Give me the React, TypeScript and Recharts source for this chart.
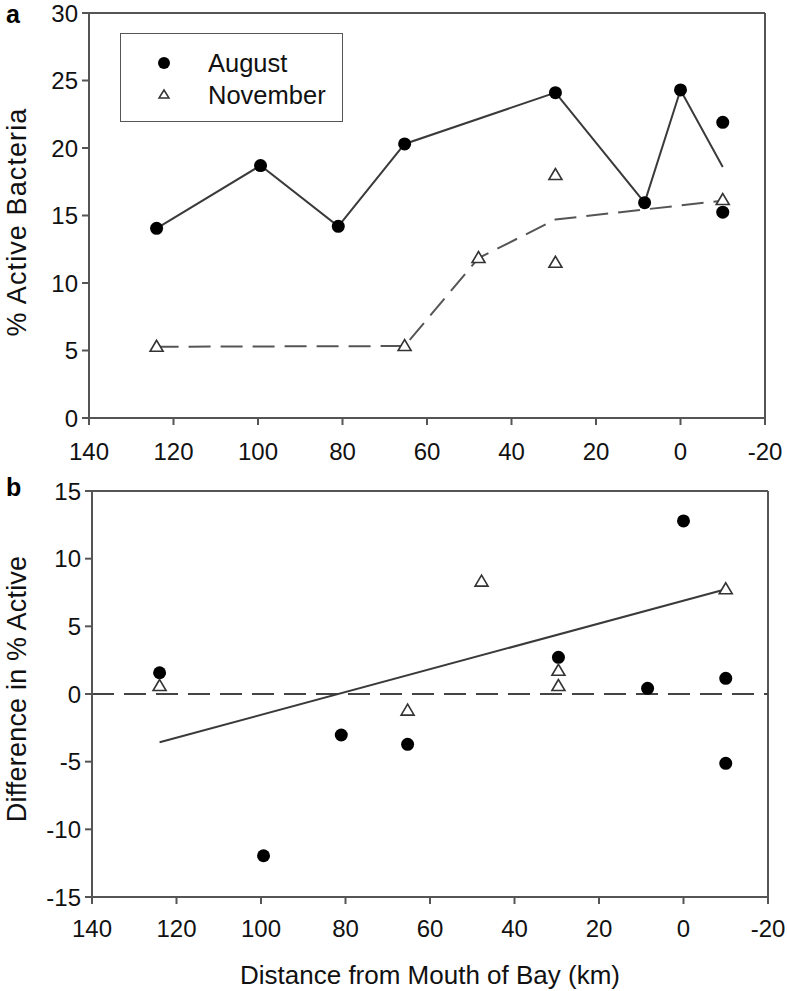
import React from 'react';
import { ComposedChart, Scatter, XAxis, YAxis, ReferenceLine, Legend } from 'recharts';

// distance from mouth of bay (km)
const distanceTicks = [140, 120, 100, 80, 60, 40, 20, 0, -20];
const activeTicks = [0, 5, 10, 15, 20, 25, 30];
const diffTicks = [-15, -10, -5, 0, 5, 10, 15];

// panel a: % active bacteria
const augustActive = [
  { d: 124, v: 14.05 },
  { d: 99.4, v: 18.7 },
  { d: 81, v: 14.2 },
  { d: 65.3, v: 20.3 },
  { d: 29.6, v: 24.1 },
  { d: 8.5, v: 15.95 },
  { d: 0, v: 24.3 },
  { d: -10, v: 21.9 },
  { d: -10, v: 15.25 },
];
const augustMeanLine = [
  { d: 124, v: 14.05 },
  { d: 99.4, v: 18.7 },
  { d: 81, v: 14.2 },
  { d: 65.3, v: 20.3 },
  { d: 29.6, v: 24.1 },
  { d: 8.5, v: 15.95 },
  { d: 0, v: 24.3 },
  { d: -10, v: 18.6 },
];
const novemberActive = [
  { d: 124, v: 5.28 },
  { d: 65.3, v: 5.33 },
  { d: 47.8, v: 11.85 },
  { d: 29.6, v: 18.0 },
  { d: 29.6, v: 11.5 },
  { d: -10, v: 16.15 },
];
const novemberMeanLine = [
  { d: 124, v: 5.28 },
  { d: 65.3, v: 5.33 },
  { d: 47.8, v: 11.85 },
  { d: 29.6, v: 14.7 },
  { d: -10, v: 16.1 },
];

// panel b: difference in % active
const augustDiff = [
  { d: 124, v: 1.57 },
  { d: 99.4, v: -11.95 },
  { d: 81, v: -3.03 },
  { d: 65.3, v: -3.72 },
  { d: 29.6, v: 2.71 },
  { d: 8.5, v: 0.42 },
  { d: 0, v: 12.79 },
  { d: -10, v: 1.16 },
  { d: -10, v: -5.12 },
];
const novemberDiff = [
  { d: 124, v: 0.59 },
  { d: 65.3, v: -1.23 },
  { d: 47.8, v: 8.3 },
  { d: 29.6, v: 1.72 },
  { d: 29.6, v: 0.59 },
  { d: -10, v: 7.74 },
];
const regressionLine = [
  { d: 124, v: -3.57 },
  { d: -10, v: 7.74 },
];

const font = '"Liberation Sans", Arial, sans-serif';
const axisStroke = { stroke: '#555', strokeWidth: 2 };
const tickStyle = { fill: '#111', fontSize: 24, fontFamily: font };

const DotMark = (props: any) => <circle cx={props.cx} cy={props.cy} r={6.5} fill="#000" />;

const TriMark = (props: any) => {
  const { cx, cy } = props;
  return (
    <polygon
      points={`${cx},${cy - 6.5} ${cx - 6.5},${cy + 4.5} ${cx + 6.5},${cy + 4.5}`}
      fill="#fff"
      stroke="#333"
      strokeWidth={1.6}
    />
  );
};

const NoMark = () => <g />;

// rotated axis title, baseline on bx, centred on by
const VerticalTitle = (props: any) => {
  const { title, bx, by, spacing } = props;
  return (
    <text
      x={bx}
      y={by}
      transform={`rotate(-90 ${bx} ${by})`}
      textAnchor="middle"
      fill="#111"
      fontSize={27}
      fontFamily={font}
      letterSpacing={spacing}
    >
      {title}
    </text>
  );
};

const LegendBox = (props: any) => {
  const items = (props.payload || []).filter((p: any) => p.type !== 'none');
  return (
    <div
      style={{
        width: 223,
        height: 89,
        boxSizing: 'border-box',
        border: '1.5px solid #555',
        background: '#fff',
        position: 'relative',
        fontFamily: font,
        fontSize: 25.5,
        color: '#111',
      }}
    >
      {items.map((item: any, i: number) => (
        <div key={item.value} style={{ position: 'absolute', left: 0, top: 14 + i * 32, height: 30, width: '100%' }}>
          <svg width={30} height={30} style={{ position: 'absolute', left: 28, top: 0 }}>
            {item.value === 'August' ? (
              <circle cx={15} cy={15} r={6} fill="#000" />
            ) : (
              <polygon points="15,10 10,18 20,18" fill="#fff" stroke="#333" strokeWidth={1.5} />
            )}
          </svg>
          <span style={{ position: 'absolute', left: 87, top: 0, lineHeight: '30px' }}>{item.value}</span>
        </div>
      ))}
    </div>
  );
};

const panelLetter = (letter: string, top: number) => (
  <div
    style={{
      position: 'absolute',
      left: 6,
      top,
      fontFamily: font,
      fontWeight: 'bold',
      fontSize: 25,
      lineHeight: 1,
      color: '#000',
    }}
  >
    {letter}
  </div>
);

const App: React.FC = () => {
  return (
    <div style={{ position: 'absolute', left: 0, top: 0, width: 787, height: 991, background: '#fff' }}>
      <div style={{ position: 'absolute', left: 0, top: 0 }}>
        <ComposedChart width={787} height={470} margin={{ top: 13, right: 22, left: 0, bottom: 12 }}>
          <XAxis
            type="number"
            dataKey="d"
            domain={[-20, 140]}
            reversed
            ticks={distanceTicks}
            interval={0}
            allowDataOverflow
            height={40}
            tickSize={7}
            tickMargin={18}
            axisLine={axisStroke}
            tickLine={axisStroke}
            tick={tickStyle}
          />
          <YAxis
            type="number"
            dataKey="v"
            domain={[0, 30]}
            ticks={activeTicks}
            interval={0}
            allowDataOverflow
            width={89}
            tickSize={7}
            tickMargin={4}
            axisLine={axisStroke}
            tickLine={axisStroke}
            tick={tickStyle}
            label={<VerticalTitle title="% Active Bacteria" bx={26} by={222} spacing={1.1} />}
          />
          <ReferenceLine y={30} stroke="#555" strokeWidth={2} />
          <ReferenceLine x={-20} stroke="#555" strokeWidth={2} />
          <Scatter
            name="August mean"
            data={augustMeanLine}
            line={{ stroke: '#3a3a3a', strokeWidth: 2 }}
            shape={NoMark}
            legendType="none"
            isAnimationActive={false}
          />
          <Scatter
            name="November mean"
            data={novemberMeanLine}
            line={{ stroke: '#555', strokeWidth: 2, strokeDasharray: '22 10' }}
            shape={NoMark}
            legendType="none"
            isAnimationActive={false}
          />
          <Scatter name="August" data={augustActive} shape={DotMark} legendType="circle" isAnimationActive={false} />
          <Scatter name="November" data={novemberActive} shape={TriMark} legendType="triangle" isAnimationActive={false} />
          <Legend
            layout="vertical"
            align="center"
            verticalAlign="middle"
            content={LegendBox}
            wrapperStyle={{ left: 120, top: 33, width: 223, height: 89 }}
          />
        </ComposedChart>
      </div>

      <div style={{ position: 'absolute', left: 0, top: 470 }}>
        <ComposedChart width={787} height={521} margin={{ top: 21, right: 19, left: 0, bottom: 0 }}>
          <XAxis
            type="number"
            dataKey="d"
            domain={[-20, 140]}
            reversed
            ticks={distanceTicks}
            interval={0}
            allowDataOverflow
            height={94}
            tickSize={7}
            tickMargin={16}
            axisLine={axisStroke}
            tickLine={axisStroke}
            tick={tickStyle}
            label={{
              value: 'Distance from Mouth of Bay (km)',
              position: 'insideBottom',
              offset: 7,
              style: { fill: '#111', fontSize: 26, fontFamily: font },
            }}
          />
          <YAxis
            type="number"
            dataKey="v"
            domain={[-15, 15]}
            ticks={diffTicks}
            interval={0}
            allowDataOverflow
            width={92}
            tickSize={7}
            tickMargin={4}
            axisLine={axisStroke}
            tickLine={axisStroke}
            tick={tickStyle}
            label={<VerticalTitle title="Difference in % Active" bx={26} by={219} spacing={0.2} />}
          />
          <ReferenceLine y={15} stroke="#555" strokeWidth={2} />
          <ReferenceLine x={-20} stroke="#555" strokeWidth={2} />
          <ReferenceLine y={0} stroke="#444" strokeWidth={2} strokeDasharray="22 10" />
          <Scatter
            name="Regression"
            data={regressionLine}
            line={{ stroke: '#3a3a3a', strokeWidth: 2 }}
            shape={NoMark}
            legendType="none"
            isAnimationActive={false}
          />
          <Scatter name="August" data={augustDiff} shape={DotMark} isAnimationActive={false} />
          <Scatter name="November" data={novemberDiff} shape={TriMark} isAnimationActive={false} />
        </ComposedChart>
      </div>

      {panelLetter('a', 2)}
      {panelLetter('b', 475)}
    </div>
  );
};

export default App;
